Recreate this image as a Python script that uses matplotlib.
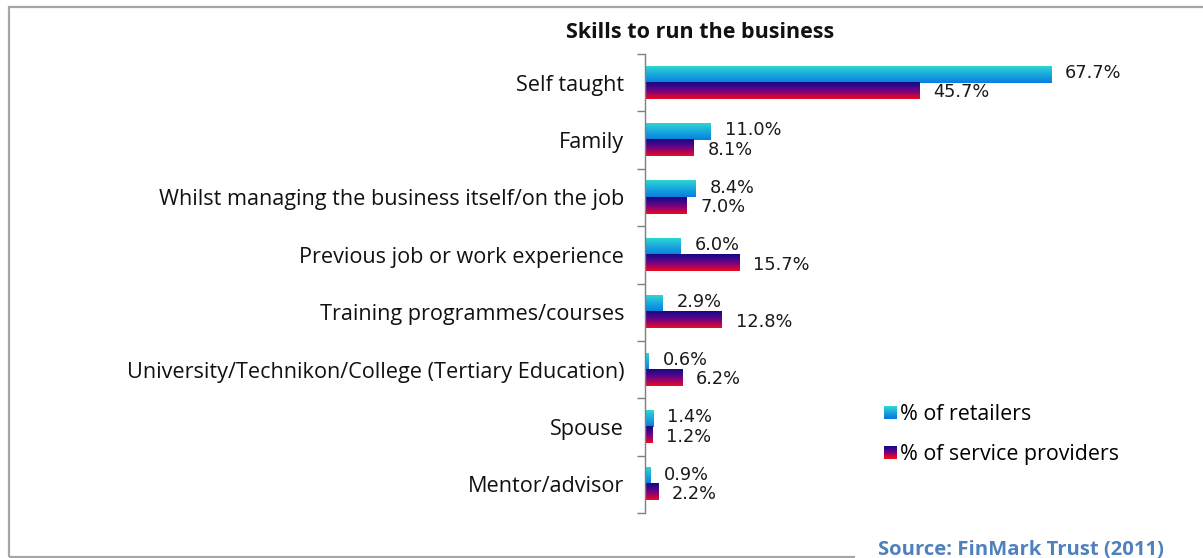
import numpy as np
import matplotlib
matplotlib.use('Agg')
import matplotlib.pyplot as plt
from matplotlib.colors import LinearSegmentedColormap
from matplotlib.patches import Rectangle
from matplotlib.legend_handler import HandlerBase

categories = ['Self taught', 'Family', 'Whilst managing the business itself/on the job',
              'Previous job or work experience', 'Training programmes/courses',
              'University/Technikon/College (Tertiary Education)', 'Spouse', 'Mentor/advisor']
retailers = [67.7, 11.0, 8.4, 6.0, 2.9, 0.6, 1.4, 0.9]
service_providers = [45.7, 8.1, 7.0, 15.7, 12.8, 6.2, 1.2, 2.2]
series_names = ['% of retailers', '% of service providers']

cyan_cmap = LinearSegmentedColormap.from_list('cyan_grad', ['#2fd6d2', '#18a8de', '#0a7ce0'])
red_cmap = LinearSegmentedColormap.from_list('red_grad', ['#160a80', '#4a0690', '#9a0268', '#ee0c1c'])

label_font = 'Open Sans'
num_font = 'DejaVu Sans'


class GradientHandler(HandlerBase):
    def __init__(self, cmap):
        super().__init__()
        self.cmap = cmap

    def create_artists(self, legend, orig_handle, xdescent, ydescent, width, height, fontsize, trans):
        n = 12
        out = []
        for k in range(n):
            out.append(Rectangle((-xdescent, -ydescent + height * (n - 1 - k) / n), width, height / n + 0.2,
                                 facecolor=self.cmap(k / (n - 1)), edgecolor='none', transform=trans))
        return out


fig = plt.figure(figsize=(12.03, 5.58), dpi=100)
W, H = 1203, 558

# outer chart frame, with the bottom-right corner blanked behind the source note
frame = Rectangle((9 / W, 1 - 557 / H), 1.2, (557 - 7) / H, transform=fig.transFigure,
                  facecolor='none', edgecolor='#a6a6a6', linewidth=1.6)
fig.patches.append(frame)
blank = Rectangle((855 / W, 0), 1.0, 20 / H, transform=fig.transFigure,
                  facecolor='white', edgecolor='none', zorder=3)
fig.patches.append(blank)

ax = fig.add_axes([645 / W, 1 - 513 / H, 540 / W, (513 - 54) / H])

n = len(categories)
ypos = np.arange(n)[::-1].astype(float)
h = 0.28
grad = np.linspace(0, 1, 64).reshape(-1, 1)

bars_r = ax.barh(ypos + h / 2, retailers, height=h, color='none')
bars_s = ax.barh(ypos - h / 2, service_providers, height=h, color='none')

for bars, cmap, vals, dy in [(bars_r, cyan_cmap, retailers, 1.2), (bars_s, red_cmap, service_providers, -1.2)]:
    for b, v in zip(bars, vals):
        x0, y0, bw, bh = b.get_x(), b.get_y(), b.get_width(), b.get_height()
        ax.imshow(grad, cmap=cmap, extent=[x0, x0 + bw, y0, y0 + bh], aspect='auto',
                  origin='upper', interpolation='bilinear', zorder=2)
        ax.annotate(f'{v:.1f}%', (x0 + bw, y0 + bh / 2), xytext=(10, dy), textcoords='offset points',
                    ha='left', va='center', fontsize=12.8, family=num_font, color='#1a1a1a')

ax.set_xlim(0, 90)
ax.set_ylim(-0.5, n - 0.5)

for s in ['top', 'right', 'bottom']:
    ax.spines[s].set_visible(False)
ax.spines['left'].set_color('#7f7f7f')
ax.spines['left'].set_linewidth(1.0)
ax.set_xticks([])
ax.set_yticks(ypos)
ax.set_yticklabels(categories, family=label_font, fontsize=15.6, color='#111111')
ax.set_yticks(np.arange(n + 1) - 0.5, minor=True)
ax.tick_params(axis='y', which='major', length=0, pad=15)
ax.tick_params(axis='y', which='minor', length=6, color='#7f7f7f', width=1.0)

fig.text(700 / W, 1 - 32 / H, 'Skills to run the business', ha='center', va='center',
         family=label_font, fontsize=15.5, fontweight='bold', color='#111111')

handles = [Rectangle((0, 0), 1, 1), Rectangle((0, 0), 1, 1)]
leg = fig.legend(handles, series_names, loc='upper left', bbox_to_anchor=(884 / W, 1 - 404 / H),
                 frameon=False, handler_map={handles[0]: GradientHandler(cyan_cmap),
                                             handles[1]: GradientHandler(red_cmap)},
                 prop={'family': label_font, 'size': 15.4}, handlelength=0.62, handleheight=0.5,
                 handletextpad=0.15, labelspacing=0.9, borderpad=0, borderaxespad=0)

fig.text(878 / W, 1 - 550 / H, 'Source: FinMark Trust (2011)', ha='left', va='center',
         family=label_font, fontsize=14.6, fontweight='bold', color='#4f81bd', zorder=4)

fig.savefig('out.png', dpi=100)
